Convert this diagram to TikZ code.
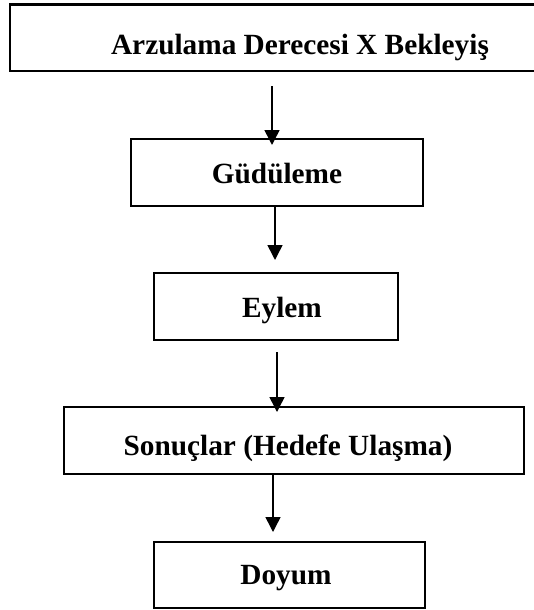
\documentclass[tikz,border=0pt]{standalone}
\usepackage{fontspec}
\setmainfont{Liberation Serif}
\usetikzlibrary{arrows.meta}
\begin{document}
\begin{tikzpicture}[x=1pt,y=-1pt,
  boxnode/.style={draw, line width=2.4pt, inner sep=0pt, outer sep=0pt, fill=none},
  lbl/.style={font=\fontsize{29.3}{34}\selectfont\bfseries, inner sep=0pt, anchor=base},
  arr/.style={line width=1.5pt, -{Triangle[length=15pt,width=15pt]}}]
\useasboundingbox (0,0) rectangle (534,610);
% boxes
\node[boxnode, minimum width=530pt, minimum height=66.5pt] (b1) at (275,37.75) {};
\node[boxnode, minimum width=292pt, minimum height=67pt] (b2) at (277,172.5) {};
\node[boxnode, minimum width=244pt, minimum height=67pt] (b3) at (276,306.5) {};
\node[boxnode, minimum width=460pt, minimum height=67pt] (b4) at (294,440.5) {};
\node[boxnode, minimum width=271pt, minimum height=66pt] (b5) at (289.5,575) {};
% labels
\node[lbl] (t1) at (300,55) {Arzulama Derecesi X Bekleyiş};
\node[lbl] (t2) at (277,183) {Güdüleme};
\node[lbl] (t3) at (282,317) {Eylem};
\node[lbl] (t4) at (288,455) {Sonuçlar (Hedefe Ulaşma)};
\node[lbl] (t5) at (286,584) {Doyum};
% arrow columns
\coordinate (c1) at (272,0);
\coordinate (c2) at (275,0);
\coordinate (c3) at (277,0);
\coordinate (c4) at (273,0);
% arrows
\draw[arr, shorten <=15pt, shorten >=-6pt] (b1.south -| c1) -- (b2.north -| c1);
\draw[arr, shorten >=13pt] (b2.south -| c2) -- (b3.north -| c2);
\draw[arr, shorten <=12pt, shorten >=-5pt] (b3.south -| c3) -- (b4.north -| c3);
\draw[arr, shorten >=10pt] (b4.south -| c4) -- (b5.north -| c4);
\end{tikzpicture}
\end{document}
